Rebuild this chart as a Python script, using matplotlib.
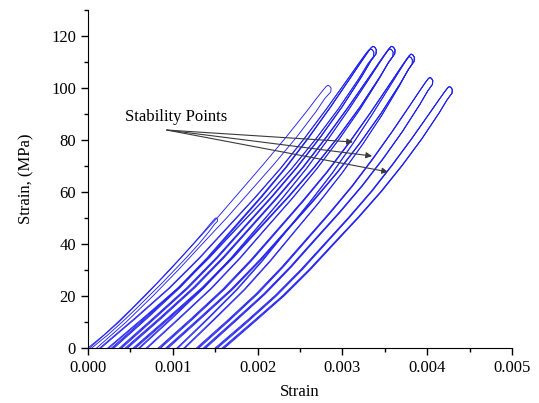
import matplotlib
matplotlib.use('Agg')
import matplotlib.pyplot as plt
from matplotlib.ticker import AutoMinorLocator, FormatStrFormatter
import numpy as np

plt.rcParams['font.family'] = ['Liberation Serif', 'DejaVu Serif']
plt.rcParams['font.size'] = 12

# one entry per hysteresis loop: residual strain at zero stress, tip of the loop
loop_start = [0.0, 0.00002, 0.00014, 0.00028, 0.00044, 0.0006, 0.00083, 0.00105, 0.00128, 0.0015]
loop_peak_strain = [0.00151, 0.00283, 0.00333, 0.00336, 0.00358, 0.00356, 0.00381, 0.00379, 0.00403, 0.00426]
loop_peak_stress = [50, 101, 115, 116, 116, 115, 113, 112, 104, 100.5]
loop_cycles = [1, 1, 2, 3, 3, 2, 3, 2, 3, 3]
loop_shape = ['virgin', 'virgin', 'reload', 'reload', 'reload', 'reload', 'reload', 'reload', 'reload', 'reload']
cycle_shift = [0.0, 0.000015, 0.00003]

# shape of a loop, normalised to
# (strain span of the loop, peak stress); the tip is at (1, 1)
load_y = [0.0, 0.1, 0.2, 0.3, 0.4, 0.5, 0.6, 0.7, 0.8, 0.9, 0.95, 0.98, 0.995, 1.0]
virgin_load_x = [0.0, 0.125, 0.235, 0.34, 0.44, 0.54, 0.635, 0.73, 0.822, 0.91, 0.952, 0.978, 0.992, 1.0]
reload_load_x = [0.0, 0.13, 0.255, 0.366, 0.468, 0.57, 0.667, 0.755, 0.838, 0.917, 0.956, 0.98, 0.993, 1.0]
unload_y = [0.997, 0.989, 0.975, 0.95, 0.9, 0.8, 0.7, 0.6, 0.5, 0.4, 0.3, 0.2, 0.1, 0.0]
virgin_unload_x = [1.007, 1.013, 1.012, 0.987, 0.95, 0.866, 0.774, 0.677, 0.58, 0.477, 0.375, 0.268, 0.155, 0.03]
reload_unload_x = [1.007, 1.013, 1.012, 0.991, 0.957, 0.882, 0.799, 0.709, 0.61, 0.505, 0.401, 0.288, 0.16, 0.03]

# stability points the arrows point at
stability_strain = [0.003125, 0.00335, 0.003538]
stability_stress = [79.2, 73.8, 67.7]
label_pos = (0.00104, 88.8)
arrow_from = (0.00093, 83.8)

shapes = {
    'virgin': (virgin_load_x + virgin_unload_x, load_y + unload_y),
    'reload': (reload_load_x + reload_unload_x, load_y + unload_y),
}

fig = plt.figure(figsize=(5.39, 4.03), dpi=100)
ax = fig.add_axes([0.163, 0.1365, 0.787, 0.839])

for a, p, s, n, kind in zip(loop_start, loop_peak_strain, loop_peak_stress, loop_cycles, loop_shape):
    ux, uy = shapes[kind]
    for shift in cycle_shift[:n]:
        start = a + shift
        span = p - start
        xs = [start + span * u for u in ux]
        ys = [s * v for v in uy]
        ax.plot(xs, ys, color='#2222ee', lw=0.65)

for sx, sy in zip(stability_strain, stability_stress):
    ax.annotate('', xy=(sx, sy), xytext=arrow_from,
                arrowprops=dict(arrowstyle='-|>', color='#3a3a3a', lw=0.8,
                                mutation_scale=9, shrinkA=0, shrinkB=0))
ax.text(label_pos[0], label_pos[1], 'Stability Points', ha='center', va='center')

ax.set_xlim(0, 0.005)
ax.set_ylim(0, 130)
ax.set_xticks(np.arange(0, 0.0051, 0.001))
ax.set_yticks(np.arange(0, 121, 20))
ax.xaxis.set_major_formatter(FormatStrFormatter('%.3f'))
ax.xaxis.set_minor_locator(AutoMinorLocator(2))
ax.yaxis.set_minor_locator(AutoMinorLocator(2))
ax.spines['top'].set_visible(False)
ax.spines['right'].set_visible(False)
ax.tick_params(which='major', direction='out', length=5, width=1)
ax.tick_params(which='minor', direction='out', length=3, width=1)

ax.set_xlabel('Strain', labelpad=6)
ax.set_ylabel('Strain, (MPa)', labelpad=12)

plt.savefig('out.png', dpi=100)
